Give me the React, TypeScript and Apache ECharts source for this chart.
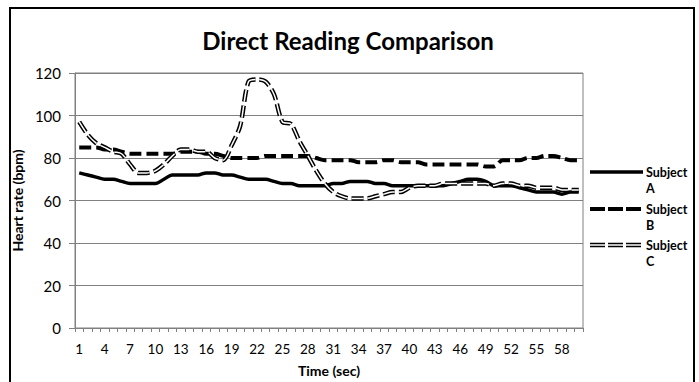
import React, { useEffect, useRef } from "react";
import * as echarts from "echarts";

// Time axis, seconds 1..60
const seconds: string[] = Array.from({ length: 60 }, (_, i) => String(i + 1));

const subjectA: number[] = [
  73, 72, 71, 70, 70, 69, 68, 68, 68, 68,
  70, 72, 72, 72, 72, 73, 73, 72, 72, 71,
  70, 70, 70, 69, 68, 68, 67, 67, 67, 67,
  68, 68, 69, 69, 69, 68, 68, 67, 67, 67,
  67, 67, 67, 67, 68, 69, 70, 70, 69, 67,
  67, 67, 66, 65, 64, 64, 64, 63, 64, 64,
];

const subjectB: number[] = [
  85, 85, 85, 84, 84, 83, 82, 82, 82, 82,
  82, 82, 83, 83, 83, 82, 82, 81, 80, 80,
  80, 80, 81, 81, 81, 81, 81, 81, 80, 79,
  79, 79, 79, 78, 78, 78, 79, 79, 78, 78,
  78, 77, 77, 77, 77, 77, 77, 77, 76, 76,
  79, 79, 79, 80, 80, 81, 81, 80, 79, 79,
];

const subjectC: number[] = [
  97, 91, 87, 85, 83, 82, 77, 73, 73, 74,
  77, 81, 84, 84, 83, 83, 80, 79, 86, 95,
  116, 117, 116, 110, 97, 96, 88, 81, 74, 68,
  64, 62, 61, 61, 61, 62, 63, 64, 64, 66,
  67, 67, 67, 68, 68, 68, 68, 68, 68, 67,
  68, 68, 67, 67, 66, 66, 66, 65, 65, 65,
];

const seriesNames = ["Subject A", "Subject B", "Subject C"];
const yTicks = { min: 0, max: 120, interval: 20 };

const FONT = "Lato, 'Open Sans', sans-serif";

export default function App() {
  const ref = useRef<HTMLDivElement>(null);

  useEffect(() => {
    if (!ref.current) return;
    const chart = echarts.init(ref.current, undefined, { renderer: "svg" });

    // Legend drawn beside the plot: line sample, then two-line label
    const legendX = 590;
    const iconLen = 53;
    const legendRows = [172, 209, 245];
    const legendGraphics: any[] = [];
    seriesNames.forEach((name, i) => {
      const y = legendRows[i];
      const [first, second] = name.split(" ");
      const shape = { x1: legendX, y1: y, x2: legendX + iconLen, y2: y };
      if (i === 0) {
        legendGraphics.push({
          type: "line",
          shape,
          style: { stroke: "#000", lineWidth: 3.5 },
        });
      } else if (i === 1) {
        legendGraphics.push({
          type: "line",
          shape,
          style: { stroke: "#000", lineWidth: 4, lineDash: [15, 3] },
        });
      } else {
        legendGraphics.push({
          type: "line",
          shape,
          style: { stroke: "#000", lineWidth: 4.5, lineDash: [15, 3] },
        });
        legendGraphics.push({
          type: "line",
          shape,
          style: { stroke: "#fff", lineWidth: 1.5 },
        });
      }
      legendGraphics.push({
        type: "text",
        x: legendX + iconLen + 3,
        y: y - 8,
        style: {
          text: first + "\n" + second,
          font: `bold 12.5px ${FONT}`,
          fill: "#000",
          lineHeight: 16,
        },
      });
    });

    chart.setOption({
      animation: false,
      backgroundColor: "#fff",
      title: {
        text: "Direct Reading Comparison",
        left: 343,
        textAlign: "center",
        top: 23,
        textStyle: { fontFamily: FONT, fontWeight: "bold", fontSize: 24, color: "#000" },
      },
      grid: {
        left: 75,
        right: 116,
        top: 73,
        bottom: 48,
        show: true,
        borderColor: "#808080",
        borderWidth: 1,
      },
      xAxis: {
        type: "category",
        data: seconds,
        boundaryGap: true,
        name: "Time (sec)",
        nameLocation: "middle",
        nameGap: 35,
        nameTextStyle: { fontFamily: FONT, fontWeight: "bold", fontSize: 14, color: "#000" },
        axisLine: { lineStyle: { color: "#808080" } },
        axisTick: { show: true, interval: 0, length: 4, lineStyle: { color: "#808080" } },
        axisLabel: {
          interval: 2,
          fontFamily: FONT,
          fontSize: 13.5,
          color: "#000",
          margin: 14,
        },
        splitLine: { show: false },
      },
      yAxis: {
        type: "value",
        min: yTicks.min,
        max: yTicks.max,
        interval: yTicks.interval,
        name: "Heart rate (bpm)",
        nameLocation: "middle",
        nameGap: 40,
        nameTextStyle: { fontFamily: FONT, fontWeight: "bold", fontSize: 14, color: "#000" },
        axisLine: { show: true, lineStyle: { color: "#808080" } },
        axisTick: { show: true, length: 6, lineStyle: { color: "#808080" } },
        axisLabel: { fontFamily: FONT, fontSize: 15, color: "#000", margin: 14 },
        splitLine: { lineStyle: { color: "#808080", width: 1 } },
      },
      series: [
        {
          name: seriesNames[0],
          type: "line",
          data: subjectA,
          smooth: 0.3,
          symbol: "none",
          lineStyle: { color: "#000", width: 3.5 },
          z: 3,
        },
        {
          name: seriesNames[1],
          type: "line",
          data: subjectB,
          smooth: 0.3,
          symbol: "none",
          lineStyle: { color: "#000", width: 4, type: [12, 5] },
          z: 4,
        },
        {
          name: seriesNames[2],
          type: "line",
          data: subjectC,
          smooth: 0.3,
          symbol: "none",
          lineStyle: { color: "#000", width: 4.5, type: [12, 4] },
          z: 5,
        },
        {
          name: seriesNames[2] + " inner",
          type: "line",
          data: subjectC,
          smooth: 0.3,
          symbol: "none",
          lineStyle: { color: "#fff", width: 1.5, type: [12, 4] },
          z: 6,
        },
      ],
      graphic: [
        {
          type: "rect",
          shape: { x: 10, y: 8, width: 684, height: 420 },
          style: { fill: "none", stroke: "#000", lineWidth: 2 },
          silent: true,
        },
        ...legendGraphics,
      ],
    });

    return () => chart.dispose();
  }, []);

  return (
    <div
      ref={ref}
      style={{ position: "fixed", left: 0, top: 0, width: 699, height: 382 }}
    />
  );
}
